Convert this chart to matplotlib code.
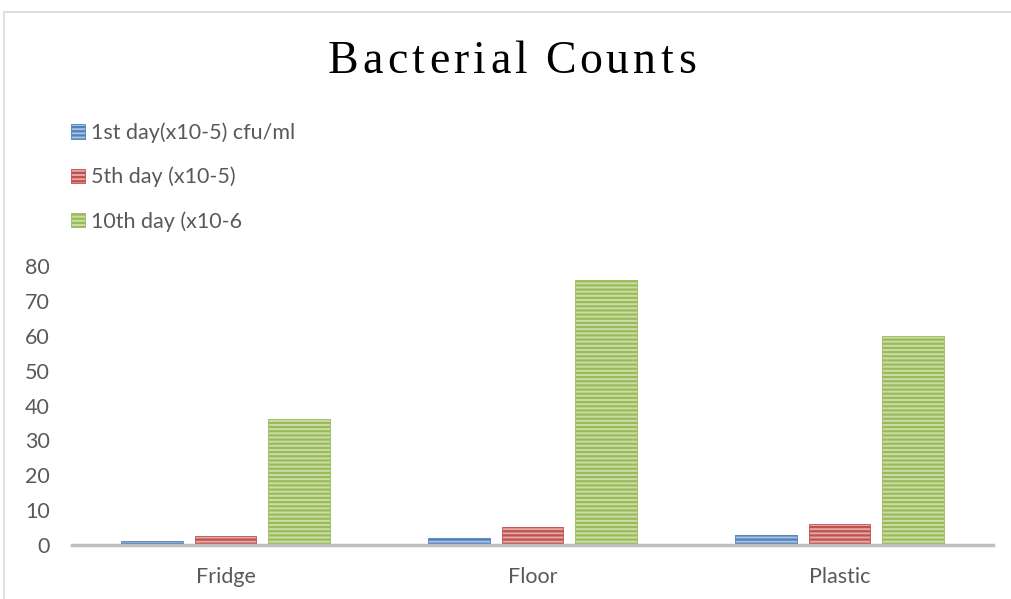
import matplotlib
matplotlib.use("Agg")
import matplotlib.pyplot as plt
from matplotlib.patches import Rectangle
from matplotlib.textpath import TextPath
from matplotlib.font_manager import FontProperties
import numpy as np

categories = ["Fridge", "Floor", "Plastic"]
series_names = ["1st day(x10-5) cfu/ml", "5th day (x10-5)", "10th day (x10-6"]
day1 = [1.2, 2.0, 2.9]
day5 = [2.6, 5.2, 6.0]
day10 = [36, 76, 60]
yticks = [0, 10, 20, 30, 40, 50, 60, 70, 80]
title = "Bacterial Counts"

face_colors = ["#A9C1E0", "#E2A9A8", "#CBDDA8"]
hatch_colors = ["#4F81BD", "#C0504D", "#9BBB59"]

plt.rcParams['font.family'] = ['Lato', 'DejaVu Sans']
plt.rcParams['hatch.linewidth'] = 1.6

W, H = 1011, 599
fig = plt.figure(figsize=(W / 100, H / 100), dpi=100)
ax = fig.add_axes([72 / W, 1 - 545 / H, (993 - 72) / W, (545 - 266) / H])

x = np.arange(len(categories))
width = 0.2
offsets = [-0.24, 0.0, 0.24]
for vals, name, fc, hc, off in zip([day1, day5, day10], series_names, face_colors, hatch_colors, offsets):
    ax.bar(x + off, vals, width, label=name, facecolor=fc, edgecolor=hc,
           hatch="----", linewidth=0.6)

ax.set_xlim(-0.5, 2.5)
ax.set_ylim(0, 80)
ax.set_yticks(yticks)
ax.set_xticks(x)
ax.set_xticklabels(categories)
for s in ["top", "right", "left"]:
    ax.spines[s].set_visible(False)
ax.spines["bottom"].set_color("#BFBFBF")
ax.spines["bottom"].set_linewidth(2.5)
ax.tick_params(axis="both", length=0, labelsize=15.5, colors="#595959")
ax.tick_params(axis="y", pad=16)
ax.tick_params(axis="x", pad=16)

# Letter-spaced title
tsize = 33
fp = FontProperties(family="Liberation Serif", size=tsize)
px_per_pt = 100 / 72
target_left, target_right = 328, 698
widths = []
for ch in title:
    if ch == " ":
        w = TextPath((0, 0), "a a", prop=fp).get_extents().width - TextPath((0, 0), "aa", prop=fp).get_extents().width
    else:
        w = TextPath((0, 0), ch + "|", prop=fp).get_extents().width - TextPath((0, 0), "|", prop=fp).get_extents().width
    widths.append(w * px_per_pt)
natural = sum(widths)
spacing = (target_right - target_left - natural) / (len(title) - 1)
cx = target_left
for ch, w in zip(title, widths):
    if ch != " ":
        fig.text(cx / W, 1 - 62 / H, ch, ha="left", va="center", fontsize=tsize,
                 family="Liberation Serif", color="black")
    cx += w + spacing

leg = fig.legend(loc="upper left", bbox_to_anchor=(62 / W, 1 - 114 / H), frameon=False,
                 fontsize=15.5, labelspacing=1.1, handlelength=0.65, handleheight=0.65,
                 handletextpad=0.3, borderaxespad=0)
for t in leg.get_texts():
    t.set_color("#595959")

fig.patches.append(Rectangle((4 / W, -0.1), 1.2, 1.1 - 12 / H, transform=fig.transFigure,
                             fill=False, edgecolor="#D9D9D9", linewidth=1.2))

fig.savefig("out.png", dpi=100, facecolor="white")
